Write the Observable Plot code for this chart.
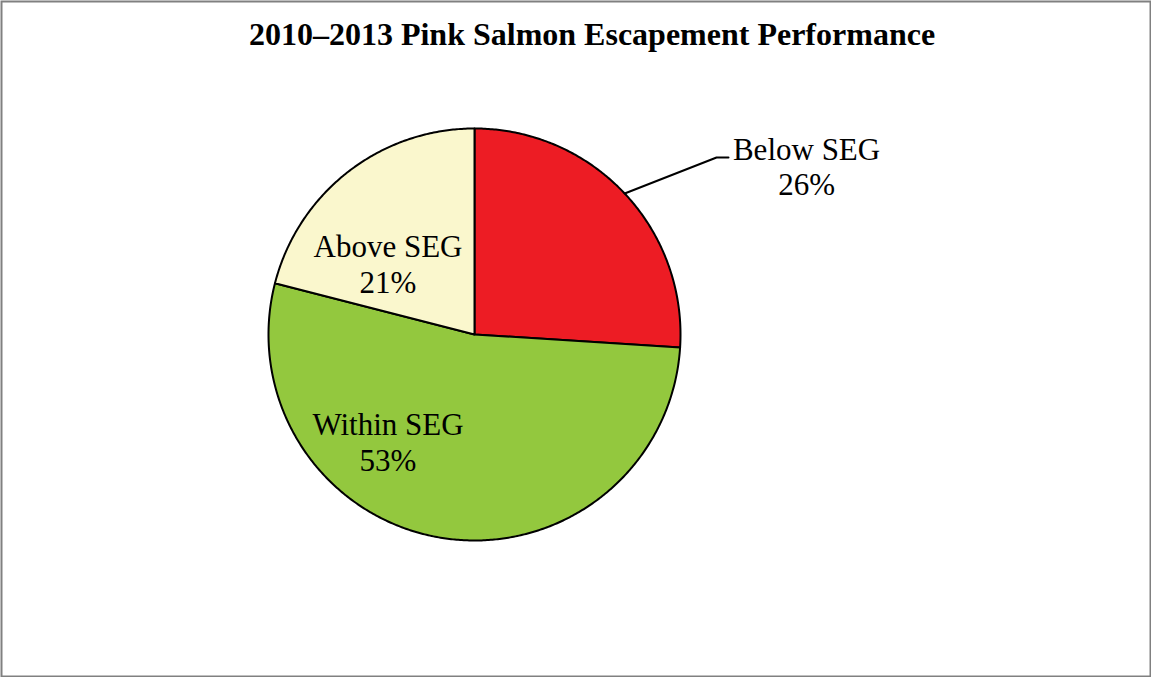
<!DOCTYPE html>
<html>
<head>
<meta charset="utf-8">
<script src="https://cdn.jsdelivr.net/npm/d3@7"></script>
<script src="https://cdn.jsdelivr.net/npm/@observablehq/plot@0.6"></script>
<style>
  html, body { margin: 0; padding: 0; background: #fff; }
  svg { display: block; }
</style>
</head>
<body>
<div id="chart"></div>
<script>
// ---- data ----
const title = "2010–2013 Pink Salmon Escapement Performance";
const categories = ["Below SEG", "Within SEG", "Above SEG"];
const percents = [26, 53, 21];
const colors = ["#ED1C24", "#93C83E", "#FAF7CD"];
// label anchor positions in pie-radius units (x right, y up from pie centre)
const labelX = [1.612, -0.42, -0.42];
const labelY = [0.818, -0.521, 0.343];
// leader line elbow for the outside label (pie-radius units)
const leaderX = [1.175, 1.233];
const leaderY = [0.859, 0.859];

// ---- geometry from data ----
const arcs = d3.pie().sort(null).startAngle(0).endAngle(2 * Math.PI)(percents);
const slices = [];
arcs.forEach((a, i) => {
  slices.push({cat: categories[i], x: 0, y: 0});
  const n = Math.max(2, Math.ceil((a.endAngle - a.startAngle) / (Math.PI / 360)));
  for (let k = 0; k <= n; k++) {
    const t = a.startAngle + (a.endAngle - a.startAngle) * k / n;
    slices.push({cat: categories[i], x: Math.sin(t), y: Math.cos(t)});
  }
});
const mid0 = (arcs[0].startAngle + arcs[0].endAngle) / 2;
const leader = [{x: Math.sin(mid0), y: Math.cos(mid0)}]
  .concat(leaderX.map((x, i) => ({x, y: leaderY[i]})));
const labels = categories.map((c, i) => ({
  text: `${c}\n${percents[i]}%`, x: labelX[i], y: labelY[i]
}));

const cx = 474, cy = 334, r = 206;
const chart = Plot.plot({
  width: 1151,
  height: 677,
  margin: 0,
  style: {background: "#fff"},
  x: {domain: [-1, 1], range: [cx - r, cx + r], axis: null},
  y: {domain: [-1, 1], range: [cy + r, cy - r], axis: null},
  color: {domain: categories, range: colors},
  marks: [
    Plot.frame({stroke: "#808080", strokeWidth: 2, inset: 1}),
    Plot.line(slices, {x: "x", y: "y", z: "cat", fill: "cat", stroke: "#000",
      strokeWidth: 2, curve: "linear-closed", strokeLinejoin: "round"}),
    Plot.line(leader, {x: "x", y: "y", stroke: "#000", strokeWidth: 2}),
    Plot.text(labels, {x: "x", y: "y", text: "text", lineAnchor: "middle",
      lineHeight: 1.16, fontSize: 31, fontFamily: "Liberation Serif, Times New Roman, serif",
      fill: "#000"}),
    Plot.text([title], {frameAnchor: "top", dx: 16, dy: 22, fontSize: 32,
      fontWeight: "bold", fontFamily: "Liberation Serif, Times New Roman, serif",
      fill: "#000"})
  ]
});
document.getElementById("chart").appendChild(chart);
</script>
</body>
</html>
